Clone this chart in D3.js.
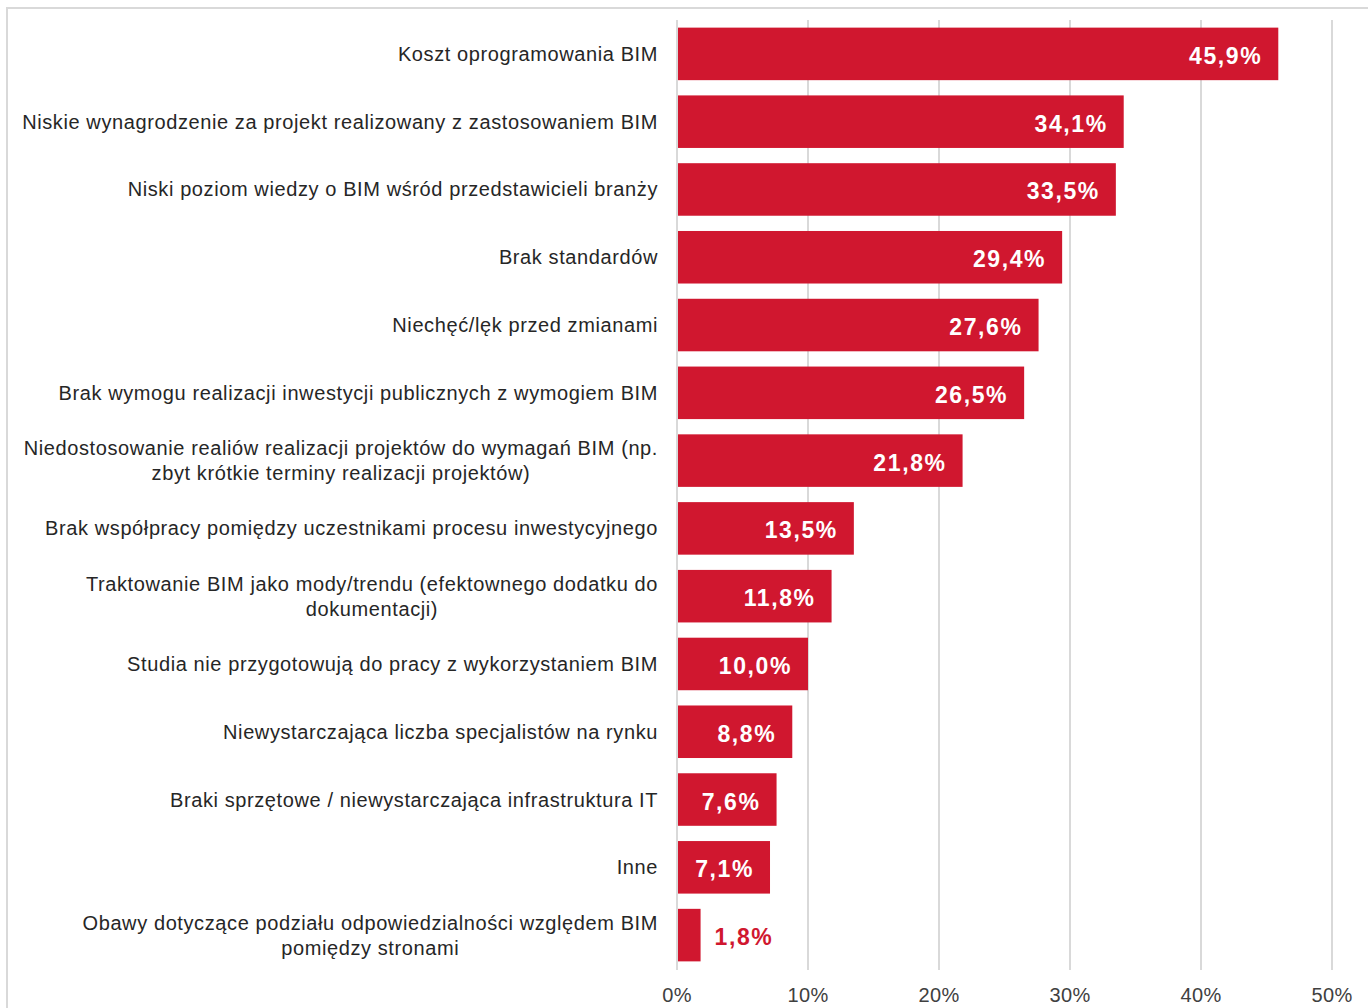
<!DOCTYPE html>
<html>
<head>
<meta charset="utf-8">
<script src="https://cdn.jsdelivr.net/npm/d3@7"></script>
<style>
  body { margin: 0; background: #fff; }
  svg { display: block; font-family: "Liberation Sans", Arial, sans-serif; }
</style>
</head>
<body>
<svg id="chart"></svg>
<script>
const WIDTH = 1368;
const HEIGHT = 1008;

// labels (multi-line where the original wraps)
const categories = [
    ["Koszt oprogramowania BIM"],
    ["Niskie wynagrodzenie za projekt realizowany z zastosowaniem BIM"],
    ["Niski poziom wiedzy o BIM wśród przedstawicieli branży"],
    ["Brak standardów"],
    ["Niechęć/lęk przed zmianami"],
    ["Brak wymogu realizacji inwestycji publicznych z wymogiem BIM"],
    ["Niedostosowanie realiów realizacji projektów do wymagań BIM (np.", "zbyt krótkie terminy realizacji projektów)"],
    ["Brak współpracy pomiędzy uczestnikami procesu inwestycyjnego"],
    ["Traktowanie BIM jako mody/trendu (efektownego dodatku do", "dokumentacji)"],
    ["Studia nie przygotowują do pracy z wykorzystaniem BIM"],
    ["Niewystarczająca liczba specjalistów na rynku"],
    ["Braki sprzętowe / niewystarczająca infrastruktura IT"],
    ["Inne"],
    ["Obawy dotyczące podziału odpowiedzialności względem BIM", "pomiędzy stronami"]
];
const values = [45.9, 34.1, 33.5, 29.4, 27.6, 26.5, 21.8, 13.5, 11.8, 10.0, 8.8, 7.6, 7.1, 1.8];
const ticks = [0, 10, 20, 30, 40, 50];

const RED = "#d0172f";

window.onload = function(){
    makeChart();
};

function makeChart(){
    let svg = d3.select('#chart')
        .attr('width', WIDTH)
        .attr('height', HEIGHT);

    // outer frame of the chart area
    svg.append('rect')
        .attr('x', 7).attr('y', 8)
        .attr('width', WIDTH + 20).attr('height', HEIGHT + 20)
        .style('fill', 'none')
        .style('stroke', '#d9d9d9')
        .style('stroke-width', 2);

    const x = d3.scaleLinear().domain([0, 50]).range([677, 1332]);
    const y = d3.scaleBand()
        .domain(d3.range(values.length))
        .range([20, 969])
        .paddingInner(0.225)
        .paddingOuter(0.1125);

    // gridlines
    svg.append('g')
        .selectAll('line')
        .data(ticks)
        .enter()
        .append('line')
        .attr('x1', d => x(d)).attr('x2', d => x(d))
        .attr('y1', 20).attr('y2', 970)
        .style('stroke', '#d9d9d9')
        .style('stroke-width', 2);

    // tick labels
    svg.append('g')
        .selectAll('text')
        .data(ticks)
        .enter()
        .append('text')
        .attr('x', d => x(d))
        .attr('y', 1002)
        .attr('text-anchor', 'middle')
        .style('font-size', '20px')
        .style('letter-spacing', '0.3px')
        .style('fill', '#404040')
        .text(d => d + '%');

    // bars
    svg.append('g')
        .selectAll('rect')
        .data(values)
        .enter()
        .append('rect')
        .attr('x', x(0) + 1)
        .attr('y', (d, i) => y(i))
        .attr('width', d => x(d) - x(0) - 1)
        .attr('height', y.bandwidth())
        .style('fill', RED);

    // value labels
    const fmt = v => v.toFixed(1).replace('.', ',') + '%';
    svg.append('g')
        .selectAll('text')
        .data(values)
        .enter()
        .append('text')
        .attr('x', d => d < 5 ? x(d) + 14 : x(d) - 16)
        .attr('y', (d, i) => y(i) + y.bandwidth() / 2 + 10)
        .attr('text-anchor', d => d < 5 ? 'start' : 'end')
        .style('font-size', '23px')
        .style('font-weight', 'bold')
        .style('letter-spacing', '1.6px')
        .style('fill', d => d < 5 ? RED : '#fff')
        .text(fmt);

    // category labels, wrapped lines centred within their block
    const labelRight = 658;
    const lineH = 25;
    let cats = svg.append('g');
    categories.forEach((lines, i) => {
        let g = cats.append('g');
        let cy = y(i) + y.bandwidth() / 2;
        let texts = lines.map((ln, k) => g.append('text')
            .attr('y', cy + 7 + (k - (lines.length - 1) / 2) * lineH)
            .style('font-size', '20px')
            .style('letter-spacing', '0.6px')
            .style('fill', '#262626')
            .text(ln));
        if (lines.length === 1) {
            texts[0].attr('x', labelRight).attr('text-anchor', 'end');
        } else {
            let maxW = d3.max(texts, t => t.node().getComputedTextLength());
            texts.forEach(t => t.attr('x', labelRight - maxW / 2).attr('text-anchor', 'middle'));
        }
    });
}
</script>
</body>
</html>
